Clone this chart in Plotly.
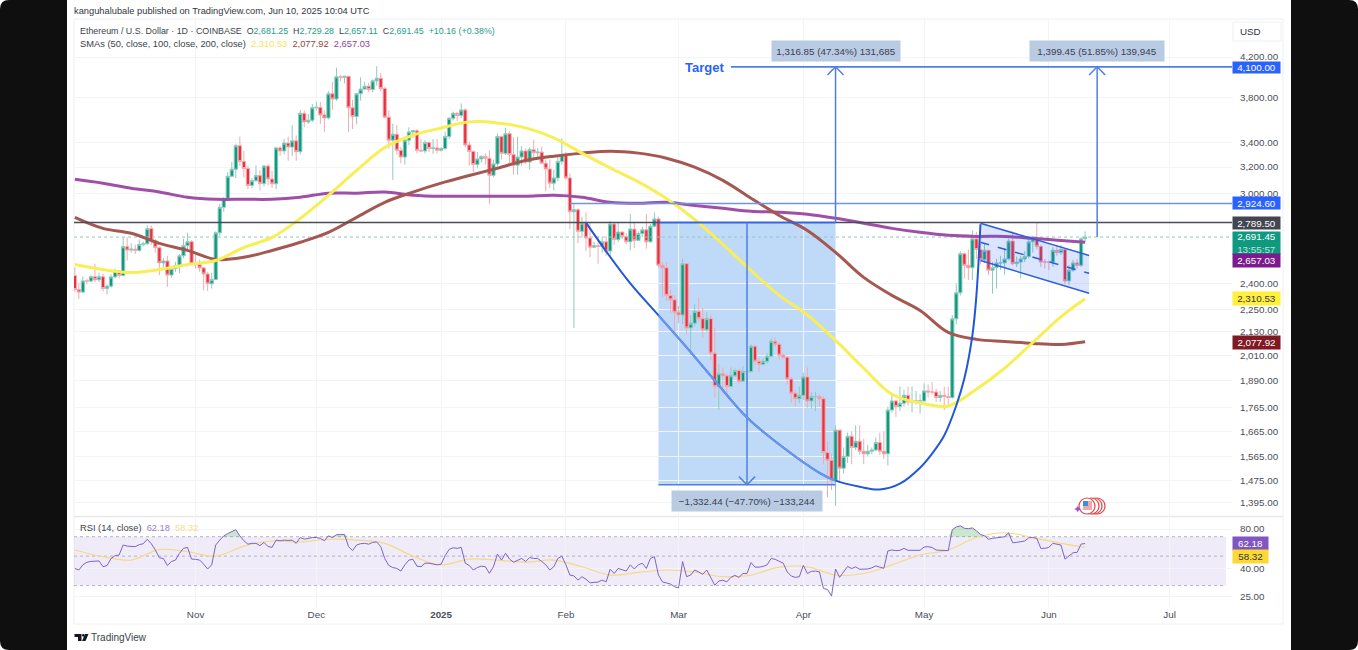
import numpy as np
import pandas as pd
import plotly.graph_objects as go
from plotly.subplots import make_subplots

W, H = 1358, 650

# Daily OHLC, Oct 2 2024 to Jun 10 2025
opens = [
    2447,2364,2349,2415,2414,2440,2422,2440,2370,2384,2439,2476,2447,2628,2606,2612,2604,2642,2647,2748,2668,2622,2525,2537,2450,2490,2507,2570,2636,2661,
    2518,2514,2494,2457,2398,2423,2720,2897,2962,3128,3183,3373,3244,3188,3058,3094,3133,3073,3208,3107,3070,3355,3330,3395,3362,3414,3324,3654,3578,3593,
    3705,3709,3640,3613,3836,3786,4000,3994,4005,3705,3625,3836,3880,3908,3875,3960,3985,3885,3620,3420,3470,3335,3280,3420,3490,3500,3335,3330,3400,3350,3355,
    3335,3350,3450,3610,3655,3635,3685,3380,3325,3220,3265,3285,3270,3135,3225,3450,3310,3475,3300,3215,3280,3330,3240,3340,3315,3320,3230,3185,3075,3115,3245,
    3300,3115,2865,2880,2730,2785,2685,2625,2635,2630,2660,2600,2780,2675,2725,2695,2660,2745,2670,2715,2740,2660,2765,2815,2510,2495,2330,2305,
    2235,2220,2520,2150,2175,2240,2200,2140,2200,2020,1860,1920,1910,1860,1910,1935,1885,1930,1930,2055,1980,1965,1980,2005,2080,2065,2010,2000,1895,1830,1805,
    1820,1905,1795,1815,1815,1805,1580,1550,1475,1670,1520,1565,1645,1600,1625,1585,1575,1585,1590,1620,1585,1575,1755,1795,1770,1785,1820,1790,1795,1795,
    1795,1840,1835,1835,1810,1820,1815,1810,2199,2345,2583,2510,2495,2680,2610,2545,2605,2480,2495,2525,2525,2550,2665,2520,2530,2550,2565,2660,2680,2630,2530,
    2530,2530,2605,2590,2610,2415,2480,2525,2510,2681.25,
]
highs = [
    2498,2404,2442,2428,2450,2520,2465,2460,2395,2455,2490,2480,2690,2690,2650,2640,2675,2660,2770,2770,2680,2630,2555,2570,2500,2530,2580,2680,2720,2670,
    2585,2545,2500,2470,2465,2730,2920,2970,3160,3240,3390,3450,3330,3210,3115,3215,3175,3215,3220,3170,3365,3370,3430,3450,3550,3460,3685,3680,3650,3740,
    3760,3760,3680,3860,3950,4090,4018,4010,4005,3780,3845,3995,3950,3940,3975,4105,4035,3900,3680,3560,3550,3365,3450,3530,3510,3515,3430,3420,3410,3430,3430,
    3360,3490,3620,3670,3665,3745,3700,3410,3335,3320,3295,3310,3335,3260,3475,3460,3525,3495,3445,3450,3370,3350,3360,3425,3355,3365,3260,3260,3180,3285,3435,
    3320,3150,2925,2890,2830,2860,2795,2660,2700,2690,2700,2800,2790,2790,2730,2715,2850,2790,2730,2760,2850,2780,2860,2830,2530,2530,2365,2330,
    2270,2550,2520,2220,2280,2320,2260,2235,2220,2150,1965,1950,1920,1950,1945,1945,1955,1940,2065,2060,2000,1995,2020,2095,2100,2075,2020,2005,1905,1845,1860,
    1925,1950,1835,1835,1825,1815,1625,1575,1690,1670,1600,1660,1665,1690,1690,1635,1610,1600,1640,1660,1665,1770,1830,1800,1860,1845,1860,1860,1840,1825,
    1875,1870,1880,1850,1840,1860,1860,2220,2400,2600,2590,2610,2735,2725,2650,2650,2610,2530,2550,2570,2620,2680,2730,2565,2570,2600,2700,2700,2790,2640,2550,
    2540,2625,2640,2640,2615,2510,2545,2550,2690,2729.28,
]
lows = [
    2352,2310,2343,2396,2407,2408,2408,2353,2335,2375,2430,2430,2445,2540,2590,2580,2595,2630,2640,2640,2590,2450,2480,2380,2435,2470,2460,2555,2600,2510,
    2490,2470,2360,2355,2370,2420,2700,2865,2960,3120,3115,3210,3120,3030,3035,3085,3020,3050,3060,3040,3030,3290,3300,3250,3290,3250,3300,3530,3560,3575,
    3680,3560,3490,3600,3685,3770,3960,3935,3490,3515,3555,3770,3870,3850,3850,3915,3860,3610,3350,3100,3300,3230,3220,3380,3440,3310,3320,3310,3320,3305,3310,
    3325,3340,3430,3590,3585,3615,3360,3210,3160,3190,3235,3220,2920,3120,3205,3260,3295,3220,3140,3140,3210,3225,3180,3260,3270,3225,3015,3040,3020,3090,3220,
    3100,2745,2150,2650,2690,2600,2560,2620,2520,2590,2570,2570,2640,2660,2680,2645,2605,2620,2675,2690,2615,2655,2755,2495,2320,2300,2230,2125,
    2175,2170,2120,2010,2160,2180,2100,2130,1985,1810,1755,1830,1820,1855,1905,1870,1880,1870,1925,1960,1930,1960,1970,2000,2050,1985,1990,1870,1785,1770,1785,
    1800,1765,1760,1750,1770,1535,1415,1440,1385,1470,1500,1540,1535,1590,1570,1535,1565,1575,1585,1570,1555,1530,1745,1725,1750,1770,1775,1745,1780,1740,
    1790,1810,1825,1790,1790,1755,1780,1805,2170,2330,2430,2420,2420,2550,2515,2525,2450,2340,2370,2480,2450,2540,2510,2500,2430,2530,2555,2590,2610,2500,2490,
    2480,2500,2570,2575,2395,2390,2470,2490,2500,2657.11,
]
closes = [
    2364,2349,2415,2414,2440,2422,2440,2370,2384,2439,2476,2447,2628,2606,2612,2604,2642,2647,2748,2668,2622,2525,2537,2450,2490,2507,2570,2636,2661,2518,
    2514,2494,2457,2398,2423,2720,2897,2962,3128,3183,3373,3244,3188,3058,3094,3133,3073,3208,3107,3070,3355,3330,3395,3362,3414,3324,3654,3578,3593,3705,
    3709,3640,3613,3836,3786,4000,3994,4005,3705,3625,3836,3880,3908,3875,3960,3985,3885,3620,3420,3470,3335,3280,3420,3490,3500,3335,3330,3400,3350,3355,3335,
    3350,3450,3610,3655,3635,3685,3380,3325,3220,3265,3285,3270,3135,3225,3450,3310,3475,3300,3215,3280,3330,3240,3340,3315,3320,3230,3185,3075,3115,3245,3300,
    3115,2865,2880,2730,2785,2685,2625,2635,2630,2660,2600,2780,2675,2725,2695,2660,2745,2670,2715,2740,2660,2765,2815,2510,2495,2330,2305,2235,
    2220,2520,2150,2175,2240,2200,2140,2200,2020,1860,1920,1910,1860,1910,1935,1885,1930,1930,2055,1980,1965,1980,2005,2080,2065,2010,2000,1895,1830,1805,1820,
    1905,1795,1815,1815,1805,1580,1550,1475,1670,1520,1565,1645,1600,1625,1585,1575,1585,1590,1620,1585,1575,1755,1795,1770,1785,1820,1790,1795,1795,1795,
    1840,1835,1835,1810,1820,1815,1810,2199,2345,2583,2510,2495,2680,2610,2545,2605,2480,2495,2525,2525,2550,2665,2520,2530,2550,2565,2660,2680,2630,2530,2530,
    2530,2605,2590,2610,2415,2480,2525,2510,2680,2691.45,
]
rsi = [
    40.4,39.3,43,45,45.6,45.6,46,41.6,42.5,48,50.4,51,60.6,59.5,59.2,58.9,61,62,67,62,55.6,48.6,48,42.5,45.5,46.7,52.5,57.2,58.2,47.5,
    47.3,46.7,43.5,40,43,60.6,66,71,74,76.5,79,71,65.3,61.5,62.4,62.4,60,63.4,59,58.2,66,65.3,66,65.6,66,62.4,69,67,68,69,
    69,68,65.3,71,69,72.4,72.8,72.8,58.9,55,60.6,62,62.4,61.5,63.4,64,58.9,48,42.5,41,40.4,38.6,43,46.7,47.3,42,41.6,44.2,44.2,43.7,43,
    43.5,50.4,56.2,57.8,57.2,58.2,44.2,42.5,39.3,41,42,41.6,37.1,41.6,51.8,46.7,52.5,47.5,45,46.2,48,45.6,48.8,48,48,45.6,43,39.3,41.6,48,50,
    43,36,35.5,33,35,33.5,31.5,31.7,31.9,33,32,39.8,37,40.4,39.3,38.6,43,40,43,44.2,40.4,48,49.5,36,32,31.5,30.8,29.4,
    28.8,45.5,35,36,39.3,38,36.5,39.3,34.6,30.2,32.5,32.9,32,34.6,35.8,34.6,37,37,44.7,41.3,41.3,41.8,43,48,47.3,45.5,44.2,38,35.4,34.6,35,
    42.6,37,38.4,38.6,38,28.5,28.1,25,40,34.6,38,41.8,40.3,41.5,39.8,39.8,40,40.8,42.2,41.3,40.5,54.7,55.6,55,55.3,57.2,55.3,55.3,55.3,55.3,
    58.5,58.9,58,55.6,55.3,55,55,79,83,84.5,81,80.5,81.5,77.5,73,71,67,68,68.7,69,70,75,63,63.4,64,65,68.7,69,68,57.2,57.2,
    58.2,62.4,61.4,60.6,47.5,50,53,53.3,61.6,62.18,
]

# Moving averages read at weekly points (Oct 2, Oct 9, ... Jun 4, then Jun 10)
sma_50 = [2515,2484,2466,2484,2515,2540,2623,2689,2818,2983,3173,3359,3462,3524,3578,3569,3525,3440,3312,3193,3085,2960,2811,2643,2478,2330,2220,2085,1946,1825,1786,1773,1848,1946,2074,2210,2310.53]
sma_100 = [2826,2750,2717,2650,2604,2547,2560,2604,2657,2723,2826,2933,3008,3075,3134,3191,3252,3287,3312,3328,3312,3271,3199,3096,2963,2839,2736,2592,2436,2330,2245,2126,2090,2079,2069,2064,2077.92]
sma_200 = [3105,3075,3037,3008,2970,2955,2955,2955,2970,3000,3000,3008,2985,2977,2977,2977,2977,2985,2970,2933,2926,2933,2910,2890,2869,2862,2848,2820,2785,2750,2723,2703,2696,2696,2683,2669,2657.03]
rsi_sma = [55.6,49.5,46.7,56,54,50,59.5,65,64,67,66,62.4,50,43,47.5,46.7,45,46.7,41.6,36,37.7,39.3,37.9,35,36,41.3,41.5,36,37,43,51,55.6,69,75,69,62.4,58.32]

# Hand drawn cup curve
cup_dates = ["2025-02-06","2025-02-11","2025-02-17","2025-02-24","2025-03-03","2025-03-10","2025-03-18","2025-03-27","2025-04-05","2025-04-09","2025-04-15","2025-04-20","2025-04-25","2025-04-30","2025-05-03","2025-05-06","2025-05-09","2025-05-11","2025-05-13","2025-05-14","2025-05-15"]
cup_prices = [2789,2598,2400,2218,2049,1888,1723,1600,1503,1474,1452,1442,1463,1522,1576,1648,1775,1897,2111,2330,2778]

# Flag channel
flag_dates = ["2025-05-15","2025-06-11"]
flag_upper = [2785,2572]
flag_mid = [2657,2461]
flag_lower = [2540,2342]

price_ticks = [4200,3800,3400,3200,3000,2400,2250,2130,2010,1890,1765,1665,1565,1475,1395]
rsi_ticks = [80,40,25]
month_ticks = ["2024-11-01","2024-12-01","2025-01-01","2025-02-01","2025-03-01","2025-04-01","2025-05-01","2025-06-01","2025-07-01"]
month_labels = ["Nov","Dec","<b>2025</b>","Feb","Mar","Apr","May","Jun","Jul"]

dates = pd.date_range("2024-10-02", "2025-06-10", freq="D")
ohlc = pd.DataFrame({"date": dates, "open": opens, "high": highs, "low": lows, "close": closes, "rsi": rsi})
sma_dates = list(pd.date_range("2024-10-02", "2025-06-04", freq="7D")) + [pd.Timestamp("2025-06-10")]
smas = pd.DataFrame({"date": sma_dates, "sma50": sma_50, "sma100": sma_100, "sma200": sma_200, "rsi_sma": rsi_sma})

FONT = "Liberation Sans, sans-serif"
BLUE = "#2962ff"
LINE_BLUE = "#4f7fe6"
x_ends = ["2024-10-01 19:00", "2025-07-16 12:00"]

def px(x):
    return x / W

def py(y):
    return 1 - y / H

def line(x, y, color, width=1.5, dash="solid", row=1, shape="linear"):
    fig.add_trace(go.Scatter(x=x, y=y, mode="lines", hoverinfo="skip",
                             line=dict(color=color, width=width, dash=dash, shape=shape)), row=row, col=1)

def arrow_head(date, price, up=True):
    # open chevron, two days wide on each side
    tip = pd.Timestamp(date)
    arm = pd.Timedelta(days=2)
    back = price * 0.98 if up else price / 0.98
    line([tip - arm, tip, tip + arm], [back, price, back], LINE_BLUE, 1.5)

def tag(y_px, text, bg, color="white", height=13, width=47):
    fig.add_annotation(xref="paper", yref="paper", x=px(1232), y=py(y_px), xanchor="left", yanchor="middle",
                       text=text, showarrow=False, bgcolor=bg, width=width, height=height, align="center",
                       font=dict(family=FONT, size=9.8, color=color), borderpad=0)

def label(x_px, y_px, text, size=9.3, color="#3b3f4a", xanchor="left"):
    fig.add_annotation(xref="paper", yref="paper", x=px(x_px - 2), y=py(y_px), xanchor=xanchor, yanchor="middle",
                       text=text, showarrow=False, font=dict(family=FONT, size=size, color=color))

def box_label(x_px, y_px, text, width):
    fig.add_annotation(xref="paper", yref="paper", x=px(x_px), y=py(y_px), xanchor="center", yanchor="middle",
                       text=text, showarrow=False, bgcolor="#b8cbe3", width=width, height=18,
                       font=dict(family=FONT, size=9.8, color="#3b4150"))

def rounded_panel(x0, x1, side):
    # black bars at both sides of the screenshot, outer corners rounded
    r = 9
    if side == "left":
        p = [f"M {px(x0+r)},{py(0)}", f"L {px(x1)},{py(0)}", f"L {px(x1)},{py(H)}", f"L {px(x0+r)},{py(H)}",
             f"Q {px(x0)},{py(H)} {px(x0)},{py(H-r)}", f"L {px(x0)},{py(r)}", f"Q {px(x0)},{py(0)} {px(x0+r)},{py(0)}", "Z"]
    else:
        p = [f"M {px(x0)},{py(0)}", f"L {px(x1-r)},{py(0)}", f"Q {px(x1)},{py(0)} {px(x1)},{py(r)}", f"L {px(x1)},{py(H-r)}",
             f"Q {px(x1)},{py(H)} {px(x1-r)},{py(H)}", f"L {px(x0)},{py(H)}", "Z"]
    fig.add_shape(type="path", xref="paper", yref="paper", path=" ".join(p), fillcolor="#0f0f0f", line_width=0, layer="below")

fig = make_subplots(rows=2, cols=1, shared_xaxes=True)

# Rectangle of the measured drop sits under the candles
fig.add_shape(type="rect", xref="x", yref="y", x0="2025-02-24", x1="2025-04-09", y0=1459, y1=2789.5,
              fillcolor="#bfd9f8", line_width=0, layer="below")
fig.add_shape(type="rect", xref="x2", yref="y2", x0=x_ends[0], x1="2025-07-15", y0=30, y1=70,
              fillcolor="rgba(126,87,194,0.12)", line_width=0, layer="below")

fig.add_trace(go.Candlestick(x=ohlc["date"], open=ohlc["open"], high=ohlc["high"], low=ohlc["low"], close=ohlc["close"],
                             increasing=dict(line=dict(color="#8fcbbf", width=1), fillcolor="#0f9a7f"),
                             decreasing=dict(line=dict(color="#f4aab0", width=1), fillcolor="#e6323f"),
                             whiskerwidth=0, hoverinfo="skip"), row=1, col=1)

line(x_ends, [2691.45, 2691.45], "#8fcbbf", 1, "dot")
line(smas["date"], smas["sma200"], "#a04fa8", 3, shape="spline")
line(smas["date"], smas["sma100"], "#a5584f", 3, shape="spline")
line(smas["date"], smas["sma50"], "#f8ee55", 3, shape="spline")
line(x_ends, [2789.5, 2789.5], "#4a4d57", 1.5)

# Measure drawings
line(["2025-02-24","2025-04-09"], [2789.5, 2789.5], BLUE, 1.5)
line(["2025-02-24","2025-04-09"], [1459, 1459], LINE_BLUE, 1.5)
line(["2025-03-18","2025-03-18"], [2789.5, 1459], LINE_BLUE, 1.5)
arrow_head("2025-03-18", 1459, up=False)
line(["2025-02-02", x_ends[1]], [2924.6, 2924.6], "#6f93e6", 1.5)
line(["2025-03-14", x_ends[1]], [4100, 4100], LINE_BLUE, 1.8)
line(["2025-04-09","2025-04-09"], [2789.5, 4100], LINE_BLUE, 1.5)
arrow_head("2025-04-09", 4100)
line(["2025-06-13","2025-06-13"], [2691.45, 4100], LINE_BLUE, 1.5)
arrow_head("2025-06-13", 4100)

# Cup, paler where it crosses the rectangle
line(cup_dates, cup_prices, "#2058d6", 2, shape="spline")
line(cup_dates[3:10], cup_prices[3:10], "#6a97ec", 2, shape="spline")

# Flag channel
fig.add_trace(go.Scatter(x=[flag_dates[0], flag_dates[1], flag_dates[1], flag_dates[0], flag_dates[0]],
                         y=[flag_upper[0], flag_upper[1], flag_lower[1], flag_lower[0], flag_upper[0]],
                         mode="lines", fill="toself", fillcolor="rgba(41,98,255,0.17)", line=dict(width=0), hoverinfo="skip"), row=1, col=1)
line(flag_dates, flag_upper, "#2b5fd9", 1.5)
line(flag_dates, flag_lower, "#2b5fd9", 1.5)
line(flag_dates, flag_mid, "#2b5fd9", 1.5, "dash")

# RSI pane
for level in (70, 50, 30):
    line([x_ends[0], "2025-07-15"], [level, level], "#b2b5be", 1, "dot", row=2)
over = np.maximum(ohlc["rsi"], 70)
fig.add_trace(go.Scatter(x=ohlc["date"], y=[70] * len(over), mode="lines", line=dict(width=0), hoverinfo="skip"), row=2, col=1)
fig.add_trace(go.Scatter(x=ohlc["date"], y=over, mode="lines", line=dict(width=0), fill="tonexty",
                         fillcolor="rgba(76,175,80,0.3)", hoverinfo="skip"), row=2, col=1)
line(smas["date"], smas["rsi_sma"], "#f6d987", 1.2, row=2, shape="spline")
line(ohlc["date"], ohlc["rsi"], "#8163c6", 1, row=2)

fig.update_layout(width=W, height=H, autosize=False, margin=dict(l=0, r=0, t=0, b=0), showlegend=False,
                  paper_bgcolor="white", plot_bgcolor="white", font=dict(family=FONT), boxgap=0.1, boxgroupgap=0.1)
grid = "#f3f4f6"
fig.update_xaxes(range=x_ends, type="date", showgrid=True, gridcolor=grid, gridwidth=1, zeroline=False, showline=False,
                 rangeslider_visible=False, tickmode="array", tickvals=month_ticks, ticktext=month_labels,
                 domain=[px(74), px(1232)])
fig.update_xaxes(showticklabels=False, ticks="", row=1, col=1)
fig.update_xaxes(showticklabels=True, ticks="", tickfont=dict(family=FONT, size=9.8, color="#4a4e59"), row=2, col=1)
fig.update_yaxes(type="log", side="right", showgrid=True, gridcolor=grid, zeroline=False, showline=False,
                 tickmode="array", ticks="outside", ticklen=5, tickcolor="rgba(0,0,0,0)",
                 tickfont=dict(family=FONT, size=9.8, color="#4a4e59"))
fig.update_yaxes(range=[np.log10(1349), np.log10(4614)], domain=[py(516.5), py(19)], tickvals=price_ticks,
                 ticktext=[f"{v:,.2f}" for v in price_ticks], row=1, col=1)
fig.update_yaxes(range=[np.log10(20.7), np.log10(98.5)], domain=[py(607), py(517)], tickvals=rsi_ticks,
                 ticktext=[f"{v:,.2f}" for v in rsi_ticks], row=2, col=1)

rounded_panel(0, 67, "left")
rounded_panel(1291, 1358, "right")

# Frame of the TradingView widget and pane separator
fig.add_shape(type="rect", xref="paper", yref="paper", x0=px(74), x1=px(1283), y0=py(624), y1=py(19),
              line=dict(color="#eef0f3", width=1), layer="below")
fig.add_shape(type="line", xref="paper", yref="paper", x0=px(74), x1=px(1283), y0=py(516.5), y1=py(516.5),
              line=dict(color="#e6e8ec", width=1.5), layer="below")
fig.add_shape(type="rect", xref="paper", yref="paper", x0=px(1233), x1=px(1281), y0=py(41), y1=py(22),
              line=dict(color="#eef0f3", width=1), fillcolor="white", layer="below")

label(74, 11.5, "kanguhalubale published on TradingView.com, Jun 10, 2025 10:04 UTC", 9.3, "#33363f")
green = "color:#1f9d86"
label(80, 31.5, f"Ethereum / U.S. Dollar · 1D · COINBASE  O<span style='{green}'>2,681.25</span>  H<span style='{green}'>2,729.28</span>"
                f"  L<span style='{green}'>2,657.11</span>  C<span style='{green}'>2,691.45</span>  <span style='{green}'>+10.16 (+0.38%)</span>", 8.9)
label(80, 44, "SMAs (50, close, 100, close, 200, close)  <span style='color:#f2e65a'>2,310.53</span>"
              "  <span style='color:#9c4136'>2,077.92</span>  <span style='color:#8e3ea0'>2,657.03</span>")
label(80, 528, "RSI (14, close)  <span style='color:#9a80cf'>62.18</span>  <span style='color:#f6dc8c'>58.32</span>")
label(1240, 31.5, "USD", 9.8, "#33363f")
label(91, 637, "TradingView", 10, "#3b3f4a")
label(706, 68, "<b>Target</b>", 13, BLUE, "center")

box_label(836, 51, "1,316.85 (47.34%) 131,685", 126)
box_label(1097, 51, "1,399.45 (51.85%) 139,945", 132)
box_label(747, 501, "−1,332.44 (−47.70%) −133,244", 148)

tag(67.5, "4,100.00", BLUE, height=11)
tag(203, "2,924.60", BLUE, height=12)
tag(222.5, "2,789.50", "#434651", height=12)
tag(242.5, "2,691.45<br><span style='color:#bfe3da'>13:55:57</span>", "#0f9a7f", height=22)
tag(260, "2,657.03", "#7b1c8e")
tag(298.5, "2,310.53", "#fff03b", "#33363f")
tag(342, "2,077.92", "#801922")
tag(543.5, "62.18", "#7e57c2", width=35)
tag(556.5, "58.32", "#fdd835", "#33363f", width=35)

# TradingView logo
logo = [f"M {px(74.5)},{py(634)} L {px(81.5)},{py(634)} L {px(81.5)},{py(641)} L {px(78)},{py(641)} L {px(78)},{py(637)} L {px(74.5)},{py(637)} Z",
        f"M {px(85)},{py(634)} L {px(88.5)},{py(634)} L {px(85.5)},{py(641)} L {px(82)},{py(641)} Z"]
for p in logo:
    fig.add_shape(type="path", xref="paper", yref="paper", path=p, fillcolor="#131722", line_width=0)
fig.add_shape(type="circle", xref="paper", yref="paper", x0=px(82), x1=px(84.6), y0=py(636.7), y1=py(634), fillcolor="#131722", line_width=0)

# Economic event badge near the bottom of the price pane
for cx in (1097, 1094, 1091, 1087):
    fig.add_shape(type="circle", xref="paper", yref="paper", x0=px(cx - 8), x1=px(cx + 8), y0=py(514), y1=py(498),
                  fillcolor="white", line=dict(color="#e0474c", width=1.2))
fig.add_shape(type="rect", xref="paper", yref="paper", x0=px(1083), x1=px(1092), y0=py(510), y1=py(501), fillcolor="#f2a9ab", line_width=0)
fig.add_shape(type="rect", xref="paper", yref="paper", x0=px(1083), x1=px(1088), y0=py(506), y1=py(501), fillcolor="#3c8fd8", line_width=0)
fig.add_annotation(xref="paper", yref="paper", x=px(1077), y=py(509), xanchor="center", yanchor="middle", text="✦", showarrow=False,
                   font=dict(size=11, color="#9c4fe0", family="DejaVu Sans"))

fig.write_html("out.html", config={"displayModeBar": False},
               post_script="document.body.style.margin='0';document.body.style.overflow='hidden';")
